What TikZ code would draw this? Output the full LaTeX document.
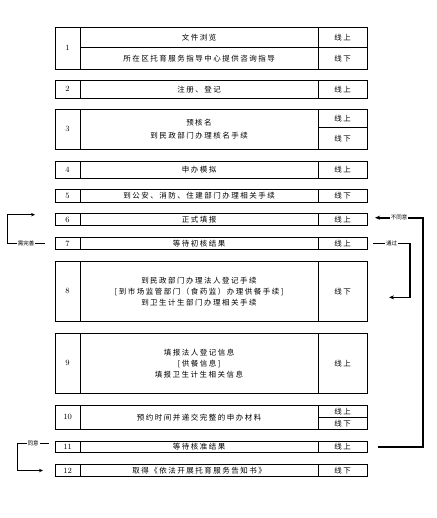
\documentclass[tikz,border=0pt]{standalone}
\usepackage{fontspec}
\newfontfamily\cjk[LetterSpace=20]{Noto Sans CJK SC}
\newfontfamily\cjktag{Noto Sans CJK SC}
\usetikzlibrary{arrows.meta}

\begin{document}
\begin{tikzpicture}[
    x=1pt, y=-1pt,
    every node/.style={inner sep=0pt, outer sep=0pt},
    cell/.style={draw, line width=0.8pt, anchor=north west},
    numcell/.style={cell, minimum width=25pt, font=\fontsize{8}{9}\selectfont},
    taskcell/.style={cell, minimum width=238pt, align=center, font=\cjk\fontsize{7.5}{11}\selectfont},
    modecell/.style={cell, minimum width=49pt, font=\cjk\fontsize{7.5}{9}\selectfont},
    tag/.style={fill=white, inner sep=1pt, font=\cjktag\fontsize{5.5}{6}\selectfont},
    backloop/.style={line width=1pt, -{Stealth[length=4pt,width=3.5pt]}},
    fwdloop/.style={line width=1.4pt, -{Stealth[length=5pt,width=4pt]}}
  ]
    \useasboundingbox (0,0) rectangle (436,518);

    % Step 1
    \node[numcell, minimum height=42pt] at (55,27.3) (num1) {1};
    \node[taskcell, minimum height=20.4pt] at (80,27.3) (task1a) {文件浏览};
    \node[taskcell, minimum height=21.6pt] at (80,47.7) (task1b) {所在区托育服务指导中心提供咨询指导};
    \node[modecell, minimum height=20.4pt] at (318,27.3) (mode1a) {线上};
    \node[modecell, minimum height=21.6pt] at (318,47.7) (mode1b) {线下};

    % Step 2
    \node[numcell, minimum height=18pt] at (55,80.3) (num2) {2};
    \node[taskcell, minimum height=18pt] at (80,80.3) (task2) {注册、登记};
    \node[modecell, minimum height=18pt] at (318,80.3) (mode2) {线上};

    % Step 3
    \node[numcell, minimum height=40pt] at (55,109.3) (num3) {3};
    \node[taskcell, minimum height=40pt, font=\cjk\fontsize{7.5}{13}\selectfont] at (80,109.3) (task3) {预核名\\到民政部门办理核名手续};
    \node[modecell, minimum height=18pt] at (318,109.3) (mode3a) {线上};
    \node[modecell, minimum height=22pt] at (318,127.3) (mode3b) {线下};

    % Step 4
    \node[numcell, minimum height=17.3pt] at (55,161) (num4) {4};
    \node[taskcell, minimum height=17.3pt] at (80,161) (task4) {申办模拟};
    \node[modecell, minimum height=17.3pt] at (318,161) (mode4) {线上};

    % Step 5
    \node[numcell, minimum height=13.4pt] at (55,189.3) (num5) {5};
    \node[taskcell, minimum height=13.4pt] at (80,189.3) (task5) {到公安、消防、住建部门办理相关手续};
    \node[modecell, minimum height=13.4pt] at (318,189.3) (mode5) {线下};

    % Step 6
    \node[numcell, minimum height=12pt] at (55,213.7) (num6) {6};
    \node[taskcell, minimum height=12pt] at (80,213.7) (task6) {正式填报};
    \node[modecell, minimum height=12pt] at (318,213.7) (mode6) {线上};

    % Step 7
    \node[numcell, minimum height=11.6pt] at (55,237.7) (num7) {7};
    \node[taskcell, minimum height=11.6pt] at (80,237.7) (task7) {等待初核结果};
    \node[modecell, minimum height=11.6pt] at (318,237.7) (mode7) {线上};

    % Step 8
    \node[numcell, minimum height=60.7pt] at (55,261) (num8) {8};
    \node[taskcell, minimum height=60.7pt] at (80,261) (task8) {到民政部门办理法人登记手续\\{[}到市场监管部门（食药监）办理供餐手续{]}\\到卫生计生部门办理相关手续};
    \node[modecell, minimum height=60.7pt] at (318,261) (mode8) {线下};

    % Step 9
    \node[numcell, minimum height=60pt] at (55,333.3) (num9) {9};
    \node[taskcell, minimum height=60pt] at (80,333.3) (task9) {填报法人登记信息\\{[}供餐信息{]}\\填报卫生计生相关信息};
    \node[modecell, minimum height=60pt] at (318,333.3) (mode9) {线上};

    % Step 10
    \node[numcell, minimum height=24pt] at (55,405.3) (num10) {10};
    \node[taskcell, minimum height=24pt] at (80,405.3) (task10) {预约时间并递交完整的申办材料};
    \node[modecell, minimum height=12pt] at (318,405.3) (mode10a) {线上};
    \node[modecell, minimum height=12pt] at (318,417.3) (mode10b) {线下};

    % Step 11
    \node[numcell, minimum height=11.3pt] at (55,441) (num11) {11};
    \node[taskcell, minimum height=11.3pt] at (80,441) (task11) {等待核准结果};
    \node[modecell, minimum height=11.3pt] at (318,441) (mode11) {线上};

    % Step 12
    \node[numcell, minimum height=12.4pt] at (55,464.3) (num12) {12};
    \node[taskcell, minimum height=12.4pt] at (80,464.3) (task12) {取得《依法开展托育服务告知书》};
    \node[modecell, minimum height=12.4pt] at (318,464.3) (mode12) {线下};

    % Loops back and forward
    \draw[backloop] ([xshift=-10pt]num7.west) -- node[tag]{需完善} ++(-38pt,0) |- ([xshift=-20pt,yshift=5pt]num6.west);
    \draw[fwdloop, line width=2pt] ([xshift=11pt]mode11.east) -- ++(45pt,0) |- node[tag, pos=0.75]{不同意} ([xshift=8pt,yshift=2pt]mode6.east);
    \draw[fwdloop] ([xshift=6pt]mode7.east) -- node[tag]{通过} ++(37pt,0) |- ([xshift=22pt,yshift=-6pt]mode8.east);
    \draw[backloop] ([xshift=-6pt,yshift=3pt]num11.west) -- node[tag]{同意} ++(-32pt,0) |- ([xshift=-12pt]num12.west);
  \end{tikzpicture}
\end{document}
